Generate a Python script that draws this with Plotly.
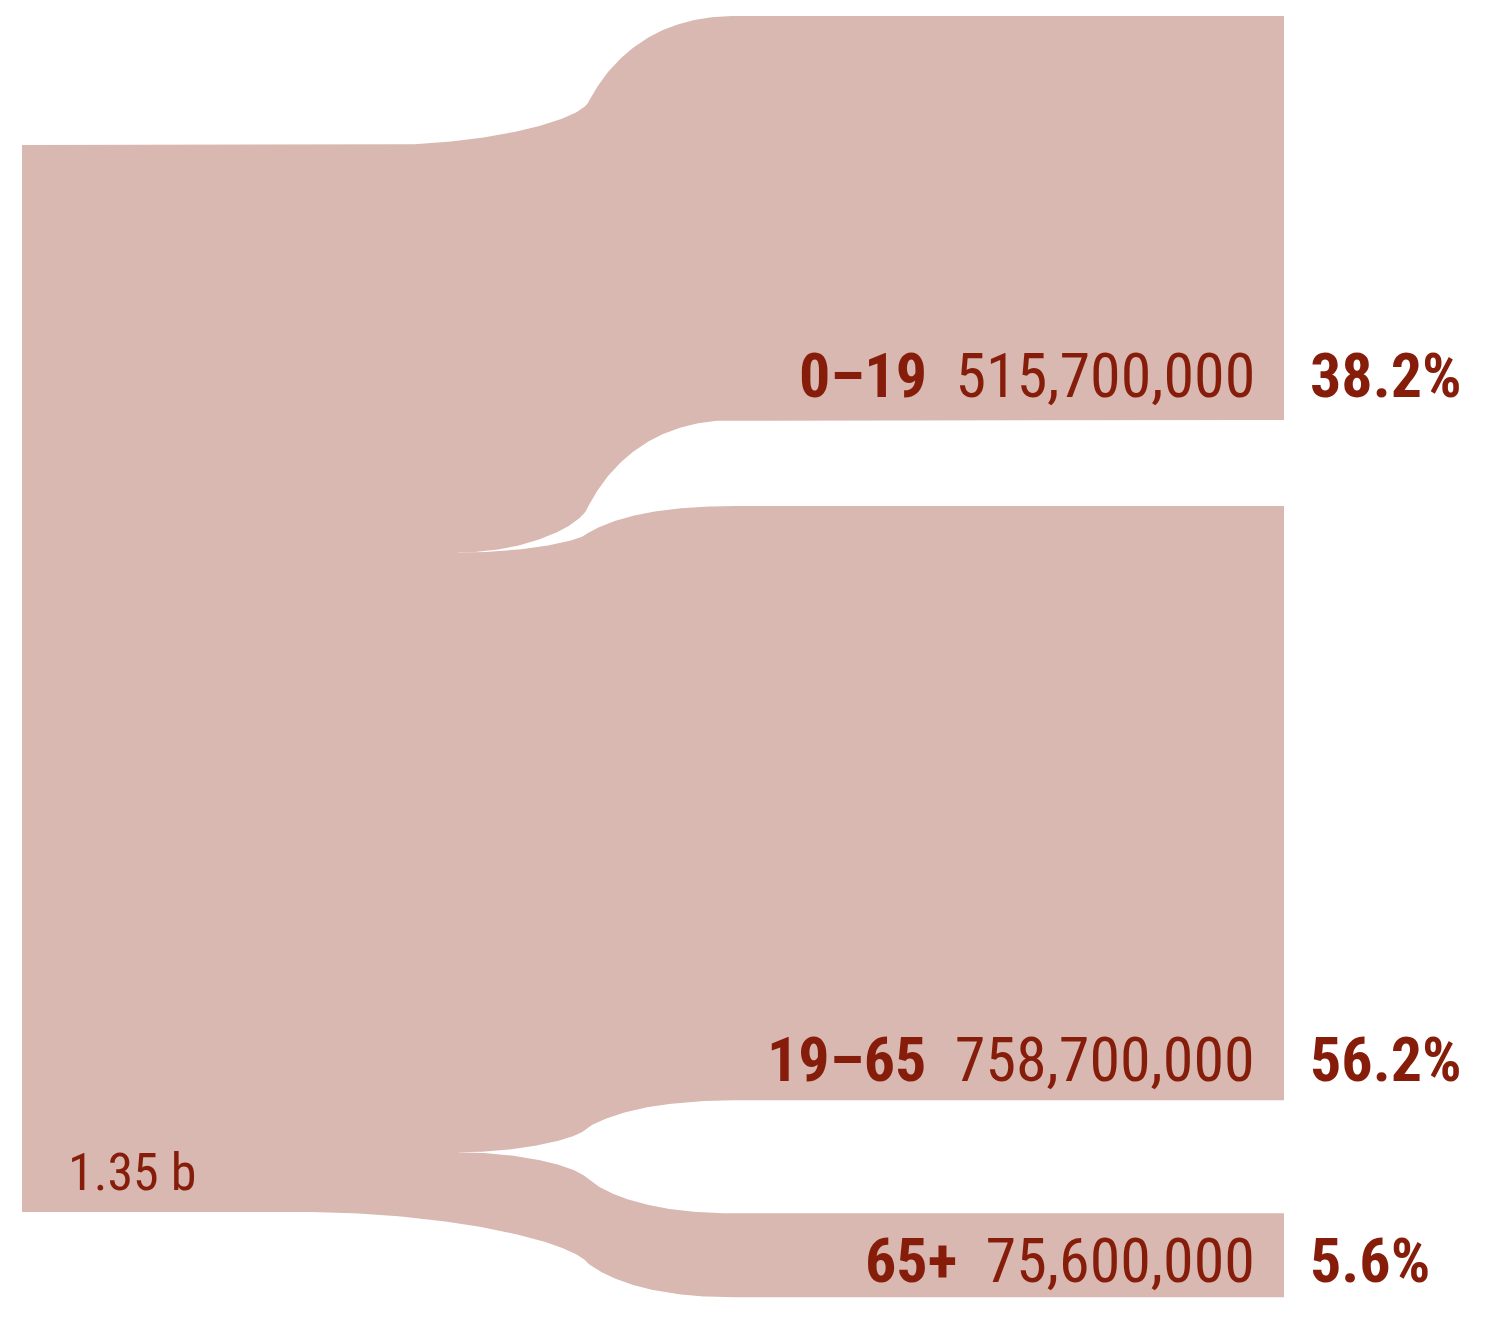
import subprocess
import plotly.graph_objects as go

# ---------------- data ----------------
categories = ["0–19", "19–65", "65+"]
values = [515_700_000, 758_700_000, 75_600_000]
total_value = 1_350_000_000

# ---------------- font choice (condensed face if available) ----------------
try:
    fams = subprocess.run(["fc-list", ":", "family"], capture_output=True, text=True).stdout
except Exception:
    fams = ""
if "Roboto Condensed" in fams:
    FONT, LABEL_SIZE, TOTAL_SIZE = "Roboto Condensed", 62, 52
elif "Liberation Sans Narrow" in fams:
    FONT, LABEL_SIZE, TOTAL_SIZE = "Liberation Sans Narrow", 63, 54
else:
    FONT, LABEL_SIZE, TOTAL_SIZE = "DejaVu Sans Condensed", 52, 44

# ---------------- layout constants ----------------
W, H = 1490, 1325
BODY = 8  # default page margin of the html body
FILL = "#D8B8B1"
TXT = "#861D0B"

X_LEFT, X_SPLIT, X_MID, X_R0, X_R1 = 22, 458, 588, 735, 1284
X_OUTER_TOP, X_OUTER_BOT = 380, 300
LEFT_TOP, LEFT_H = 145, 1067
RIGHT_TOP, RIGHT_SCALE, RIGHT_MIN = 16, 404 / 515.7e6, 84
RIGHT_GAPS = [86, 113]
MID_TOP, MID_GAPS = 103, [26, 52]

left_scale = LEFT_H / total_value


def stack(top, heights, gaps):
    out, y = [], top
    for i, h in enumerate(heights):
        out.append((y, y + h))
        if i < len(gaps):
            y += h + gaps[i]
    return out


left_h = [v * left_scale for v in values]
right_h = [max(v * RIGHT_SCALE, RIGHT_MIN) for v in values]
left_pos = stack(LEFT_TOP, left_h, [0, 0])
right_pos = stack(RIGHT_TOP, right_h, RIGHT_GAPS)
mid_pos = stack(MID_TOP, right_h, MID_GAPS)


def bez(p0, p1, p2, p3, n=80):
    pts = []
    for k in range(n + 1):
        t = k / n
        a, b, c, d = (1 - t) ** 3, 3 * (1 - t) ** 2 * t, 3 * (1 - t) * t ** 2, t ** 3
        pts.append((a * p0[0] + b * p1[0] + c * p2[0] + d * p3[0],
                    a * p0[1] + b * p1[1] + c * p2[1] + d * p3[1]))
    return pts


def edge(xs, yl, ym, yr):
    w = X_MID - xs
    a = bez((xs, yl), (xs + 0.5 * w, yl),
            (X_MID - 0.06 * w, ym + 0.45 * (yl - ym)), (X_MID, ym))
    if xs < X_SPLIT:
        a = [(X_LEFT, yl)] + a
    wb = X_R0 - X_MID
    b = bez((X_MID, ym), (X_MID + 0.15 * wb, ym + 0.5 * (yr - ym)),
            (X_MID + 0.45 * wb, yr), (X_R0, yr))
    return a + b[1:] + [(X_R1, yr)]


fig = go.Figure()

# left block
fig.add_trace(go.Scatter(
    x=[X_LEFT, X_SPLIT, X_SPLIT, X_LEFT, X_LEFT],
    y=[left_pos[0][0], left_pos[0][0], left_pos[-1][1], left_pos[-1][1], left_pos[0][0]],
    fill="toself", fillcolor=FILL, line=dict(width=0), mode="lines", hoverinfo="skip"))

n = len(values)
for i in range(n):
    top = edge(X_OUTER_TOP if i == 0 else X_SPLIT, left_pos[i][0], mid_pos[i][0], right_pos[i][0])
    bot = edge(X_OUTER_BOT if i == n - 1 else X_SPLIT, left_pos[i][1], mid_pos[i][1], right_pos[i][1])
    pts = top + bot[::-1] + [top[0]]
    fig.add_trace(go.Scatter(
        x=[p[0] for p in pts], y=[p[1] for p in pts],
        fill="toself", fillcolor=FILL, line=dict(width=0), mode="lines", hoverinfo="skip"))

row_offsets = [45, 41, 37]
for i in range(n):
    yc = right_pos[i][1] - row_offsets[i]
    fig.add_annotation(
        x=1257, y=yc, xref="x", yref="y", xanchor="right", yanchor="middle",
        text=f"<b>{categories[i]}</b>&nbsp;&nbsp;{values[i]:,.0f}", showarrow=False,
        font=dict(family=FONT, size=LABEL_SIZE, color=TXT))
    fig.add_annotation(
        x=1308, y=yc, xref="x", yref="y", xanchor="left", yanchor="middle",
        text=f"<b>{values[i] / total_value * 100:.1f}%</b>", showarrow=False,
        font=dict(family=FONT, size=LABEL_SIZE, color=TXT))

fig.add_annotation(
    x=66, y=1172, xref="x", yref="y", xanchor="left", yanchor="middle",
    text=f"{total_value / 1e9:.2f} b", showarrow=False,
    font=dict(family=FONT, size=TOTAL_SIZE, color=TXT))

fig.update_layout(
    width=W - BODY, height=H - BODY, margin=dict(l=0, r=0, t=0, b=0),
    paper_bgcolor="white", plot_bgcolor="white", showlegend=False,
    xaxis=dict(range=[BODY, W], visible=False, fixedrange=True),
    yaxis=dict(range=[H, BODY], visible=False, fixedrange=True),
)

fig.write_html("out.html", config={"displayModeBar": False})
